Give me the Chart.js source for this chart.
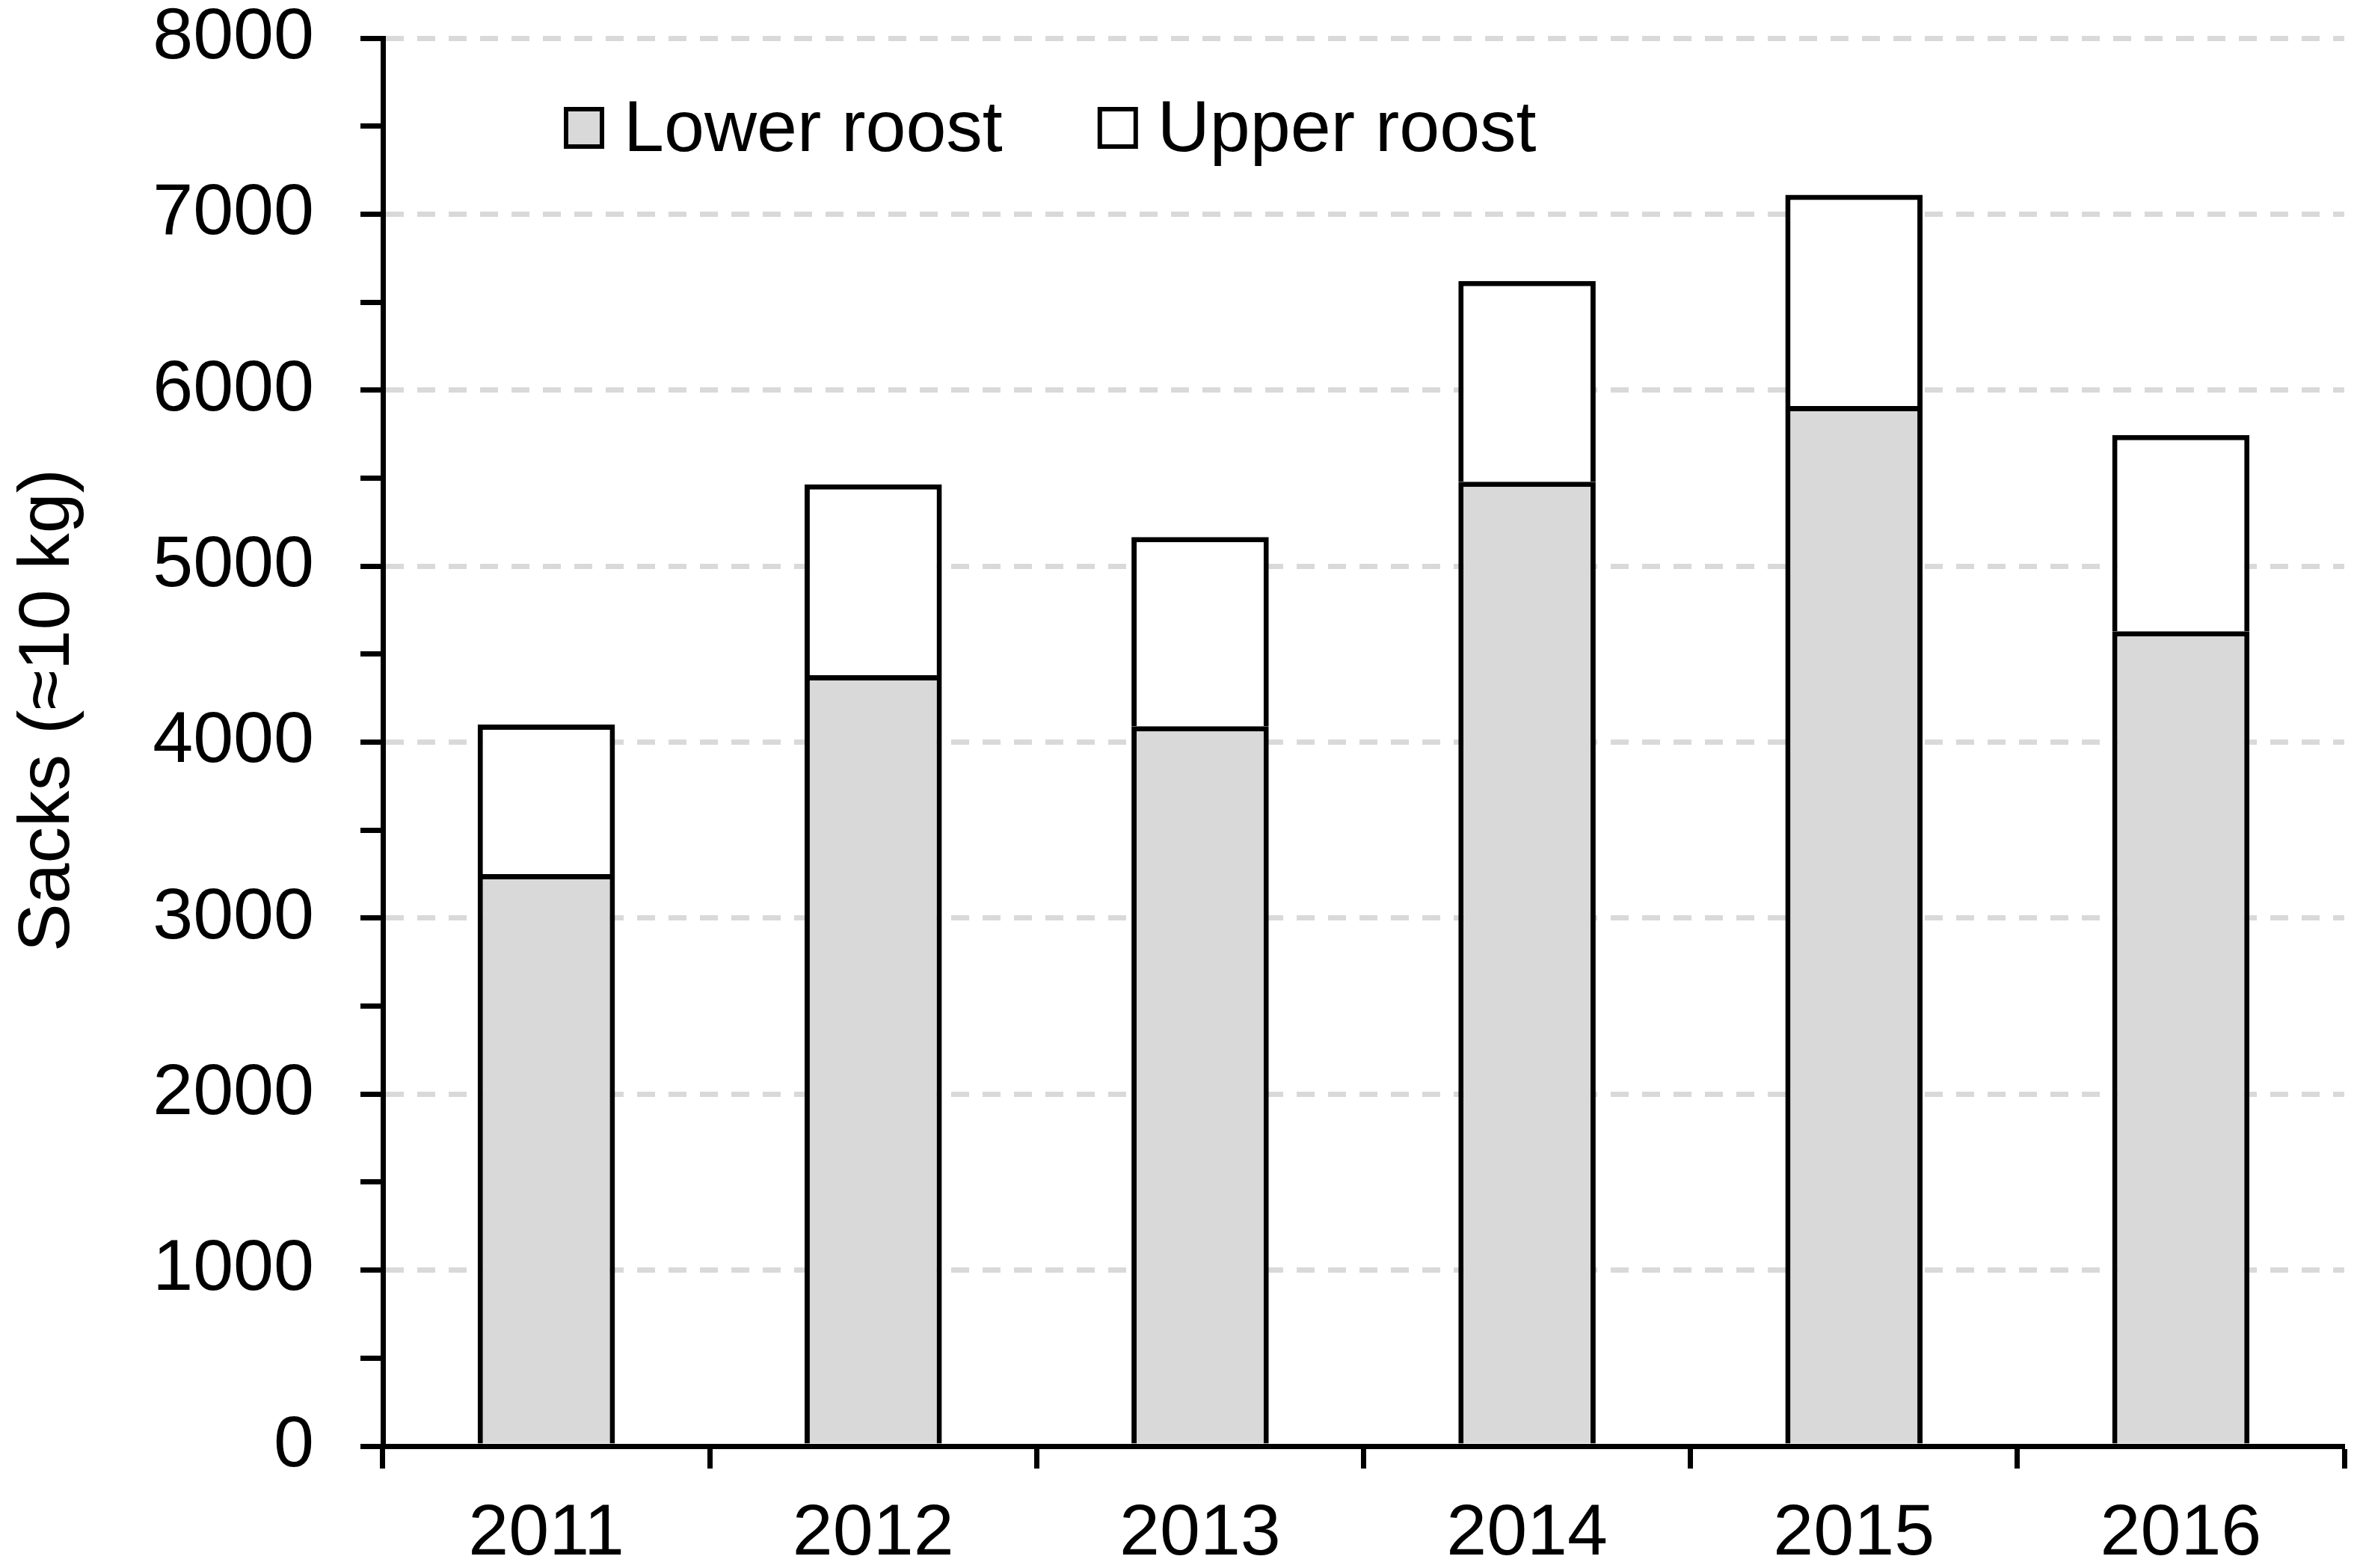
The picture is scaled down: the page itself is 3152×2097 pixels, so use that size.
<!DOCTYPE html>
<html>
<head>
<meta charset="utf-8">
<title>Sacks per year</title>
<style>
    html, body { margin: 0; padding: 0; background: #fff; }
    #wrap { width: 3152px; height: 2097px; }
</style>
<script src="https://cdn.jsdelivr.net/npm/chart.js@4.4.1/dist/chart.umd.min.js"></script>
</head>
<body>
<div id="wrap"><canvas id="chart-sacks" width="3152" height="2097"></canvas></div>
<script>
'use strict';

// values
var years = ['2011', '2012', '2013', '2014', '2015', '2016'];
var lowerRoost = [3250, 4380, 4090, 5480, 5910, 4630];
var upperRoost = [850, 1085, 1075, 1140, 1200, 1115];
var seriesNames = ['Lower roost', 'Upper roost'];
var yAxisTitle = 'Sacks (\u224810 kg)';
var yMin = 0, yMax = 8000, yMajor = 1000, yMinor = 500;

var FONT = '"Liberation Sans", Arial, Helvetica, sans-serif';
var FONT_PX = 97;

// legend drawn inside the plot, top left
var insideLegend = {
    id: 'insideLegend',
    afterDraw: function(chart) {
        var ctx = chart.ctx;
        var x = 754, top = 143, boxW = 54, boxH = 56;
        ctx.save();
        ctx.font = FONT_PX + 'px ' + FONT;
        ctx.textBaseline = 'alphabetic';
        ctx.textAlign = 'left';
        chart.data.datasets.forEach(function(ds) {
            ctx.fillStyle = ds.backgroundColor;
            ctx.fillRect(x + 3, top + 3, boxW - 6, boxH - 6);
            ctx.lineWidth = 6;
            ctx.strokeStyle = '#000';
            ctx.strokeRect(x + 3, top + 3, boxW - 6, boxH - 6);
            ctx.fillStyle = '#000';
            ctx.fillText(ds.label, x + 80, 202);
            x += 80 + ctx.measureText(ds.label).width + 127;
        });
        ctx.restore();
    }
};

// rotated y title, placed like the original
var yTitle = {
    id: 'yTitle',
    afterDraw: function(chart) {
        var ctx = chart.ctx;
        ctx.save();
        ctx.translate(92, 950);
        ctx.rotate(-Math.PI / 2);
        ctx.font = FONT_PX + 'px ' + FONT;
        ctx.fillStyle = '#000';
        ctx.textAlign = 'center';
        ctx.textBaseline = 'alphabetic';
        ctx.fillText(yAxisTitle, 0, 0);
        ctx.restore();
    }
};

new Chart(document.getElementById('chart-sacks'), {
    type: 'bar',
    data: {
        labels: years,
        datasets: [{
            label: seriesNames[0],
            data: lowerRoost,
            backgroundColor: '#d9d9d9',
            borderColor: '#000',
            borderWidth: 7
        }, {
            label: seriesNames[1],
            data: upperRoost,
            backgroundColor: '#ffffff',
            borderColor: '#000',
            borderWidth: 7
        }]
    },
    options: {
        responsive: false,
        devicePixelRatio: 1,
        animation: false,
        categoryPercentage: 1,
        barPercentage: 0.42,
        layout: { padding: { left: 0, top: 51, right: 17, bottom: 0 } },
        plugins: { legend: { display: false }, tooltip: { enabled: false } },
        scales: {
            x: {
                stacked: true,
                afterFit: function(scale) {
                    scale.height = 163;
                    scale.paddingLeft = 0;
                    scale.paddingRight = 0;
                },
                grid: {
                    offset: true,
                    drawOnChartArea: false,
                    tickLength: 30,
                    tickWidth: 7,
                    tickColor: '#000'
                },
                border: { color: '#000', width: 7, z: 1 },
                ticks: {
                    color: '#000',
                    padding: 30,
                    maxRotation: 0,
                    autoSkip: false,
                    font: { family: FONT, size: FONT_PX, lineHeight: 1.2 }
                }
            },
            y: {
                stacked: true,
                min: yMin,
                max: yMax,
                afterFit: function(scale) {
                    scale.width = 512;
                    scale.paddingTop = 0;
                    scale.paddingBottom = 0;
                },
                grid: {
                    color: function(c) {
                        var v = c.tick ? c.tick.value : 0;
                        return (v > 0 && v % yMajor === 0) ? '#d9d9d9' : 'rgba(0,0,0,0)';
                    },
                    lineWidth: 7,
                    tickLength: 30,
                    tickWidth: 7,
                    tickColor: '#000'
                },
                border: { color: '#000', width: 7, dash: [24, 18], z: 1 },
                ticks: {
                    stepSize: yMinor,
                    autoSkip: false,
                    color: '#000',
                    padding: 62,
                    font: { family: FONT, size: FONT_PX, lineHeight: 1 },
                    callback: function(v) { return v % yMajor === 0 ? String(v) : ''; }
                }
            }
        }
    },
    plugins: [insideLegend, yTitle]
});
</script>
</body>
</html>
